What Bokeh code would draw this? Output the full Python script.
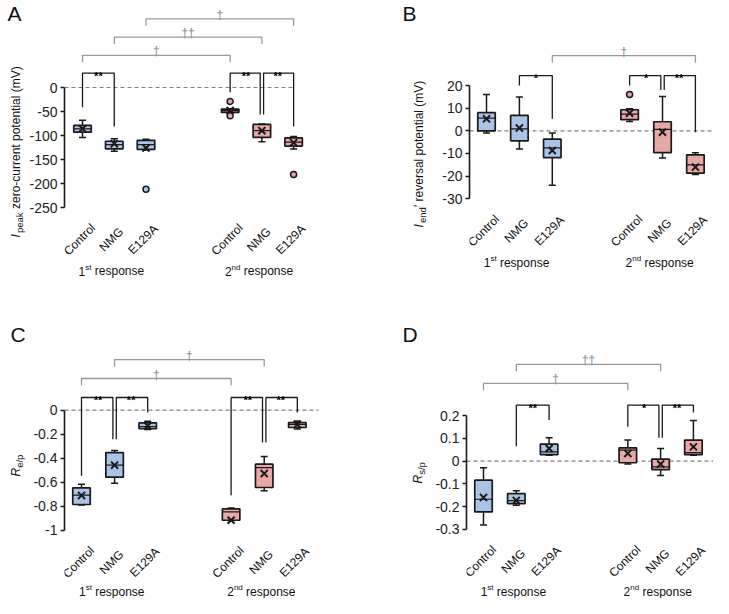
from math import pi
from bokeh.plotting import figure
from bokeh.models import Range1d, FixedTicker
from bokeh.layouts import row, column
from bokeh.embed import file_html
from bokeh.resources import INLINE
from bokeh.core.properties import value

# ---------------- data ----------------
categories = ["Control", "NMG", "E129A", "Control", "NMG", "E129A"]
responses = [("1", "st"), ("2", "nd")]

# Panel A: Ipeak zero-current potential (mV)
A_lo   = [-104, -133, -130, -52, -113, -128]
A_q1   = [-93, -128, -129, -52, -104, -122]
A_med  = [-86, -119, -119, -48, -90, -114]
A_q3   = [-79, -112, -110, -45, -77, -105]
A_hi   = [-68, -107, -108, -45, -76, -102]
A_mean = [-86, -117, -126, -48, -90, -115]
A_out_idx = [2, 3, 3, 5]
A_out_val = [-212, -29, -59, -181]
A_ticks = [-250, -200, -150, -100, -50, 0]
A_tick_labels = ["-250", "-200", "-150", "-100", "-50", "0"]
A_sig_pairs = [(0, 1), (3, 4), (4, 5)]
A_sig_text = ["**", "**", "**"]
A_sig_level = [30, 30, 30]
A_sig_legs = [(-41, -81), (-10, -56), (-56, -81)]
A_dag_pairs = [(0, 3), (1, 4), (2, 5)]
A_dag_text = ["\u2020", "\u2020\u2020", "\u2020"]
A_dag_level = [67, 105, 143]

# Panel B: Iend' reversal potential (mV)
B_lo   = [-1, -8, -24, 4.1, -12, -19.3]
B_q1   = [0, -4.4, -11.8, 4.9, -9.6, -18.7]
B_med  = [5.6, 0.9, -7.5, 7.4, 0.6, -15]
B_q3   = [8, 6.8, -3.7, 9.3, 4, -10.6]
B_hi   = [16, 14.9, -1, 9.7, 15.1, -9.7]
B_mean = [5.3, 1.2, -8.7, 7.8, -0.6, -16]
B_out_idx = [3]
B_out_val = [16]
B_ticks = [-30, -20, -10, 0, 10, 20]
B_tick_labels = ["-30", "-20", "-10", "0", "10", "20"]
B_sig_pairs = [(1, 2), (3, 4), (4, 5)]
B_sig_text = ["*", "*", "**"]
B_sig_level = [24.4, 24.4, 24.4]
B_sig_legs = [(20, 5.3), (20, 18), (18, -0.6)]
B_dag_pairs = [(2, 5)]
B_dag_text = ["\u2020"]
B_dag_level = [33.2]

# Panel C: Re/p
C_lo   = [-0.79, -0.608, -0.161, -0.92, -0.672, -0.156]
C_q1   = [-0.786, -0.558, -0.153, -0.917, -0.644, -0.144]
C_med  = [-0.708, -0.458, -0.136, -0.847, -0.478, -0.119]
C_q3   = [-0.647, -0.353, -0.106, -0.822, -0.45, -0.103]
C_hi   = [-0.617, -0.336, -0.092, -0.814, -0.386, -0.089]
C_mean = [-0.71, -0.458, -0.131, -0.917, -0.528, -0.12]
C_out_idx = []
C_out_val = []
C_ticks = [-1, -0.8, -0.6, -0.4, -0.2, 0]
C_tick_labels = ["-1", "-0.8", "-0.6", "-0.4", "-0.2", "0"]
C_sig_pairs = [(0, 1), (1, 2), (3, 4), (4, 5)]
C_sig_text = ["**", "**", "**", "**"]
C_sig_level = [0.106, 0.106, 0.106, 0.106]
C_sig_legs = [(-0.547, -0.242), (-0.242, -0.019), (-0.708, -0.269), (-0.269, -0.019)]
C_dag_pairs = [(0, 3), (1, 4)]
C_dag_text = ["\u2020", "\u2020"]
C_dag_level = [0.264, 0.422]

# Panel D: Rs/p
D_lo   = [-0.282, -0.194, 0.026, -0.013, -0.063, 0.026]
D_q1   = [-0.224, -0.187, 0.029, -0.007, -0.037, 0.029]
D_med  = [-0.168, -0.174, 0.041, 0.049, -0.025, 0.038]
D_q3   = [-0.084, -0.143, 0.075, 0.059, 0.009, 0.093]
D_hi   = [-0.029, -0.131, 0.103, 0.093, 0.056, 0.179]
D_mean = [-0.16, -0.173, 0.056, 0.034, -0.013, 0.063]
D_out_idx = []
D_out_val = []
D_ticks = [-0.3, -0.2, -0.1, 0, 0.1, 0.2]
D_tick_labels = ["-0.3", "-0.2", "-0.1", "0", "0.1", "0.2"]
D_sig_pairs = [(1, 2), (3, 4), (4, 5)]
D_sig_text = ["**", "*", "**"]
D_sig_level = [0.247, 0.247, 0.247]
D_sig_legs = [(0.066, 0.181), (0.152, 0.103), (0.103, 0.215)]
D_dag_pairs = [(0, 3), (1, 4)]
D_dag_text = ["\u2020", "\u2020\u2020"]
D_dag_level = [0.343, 0.427]

# ---------------- style ----------------
FONT = "Liberation Sans"
BLUE = "#a9c4e6"
PINK = "#e8a8a6"
EDGE = "#1a1a1a"
GRAY = "#999999"
COLORS = [BLUE] * 3 + [PINK] * 3


def label_fig(w, H, letter, letter_xy, pieces, ylabel_xy):
    q = figure(width=w, height=H, x_range=Range1d(0, w), y_range=Range1d(-H, 0),
               x_axis_location=None, y_axis_location=None, output_backend="svg",
               toolbar_location=None, min_border=0)
    q.grid.visible = False
    q.outline_line_color = None
    q.text(x=[letter_xy[0]], y=[-letter_xy[1]], text=[letter], text_align="left",
           text_baseline="top", text_font=value(FONT), text_font_size="21px",
           text_color="#111111")
    lx, ly = ylabel_xy
    cur = ly
    for txt, size, italic, shift, width in pieces:
        q.text(x=[lx + shift], y=[-cur], text=[txt], angle=pi / 2, text_align="left",
               text_baseline="middle", text_font=value(FONT), text_font_size=size,
               text_font_style="italic" if italic else "normal", text_color="#111111")
        cur -= width
    return q


def make_panel(W, H, lab_w, frame_left, cal, xcal, st, out_idx, out_val, ticks,
               tick_labels, sig, dag, dash_end_px, resp_dy):
    (yv1, py1), (yv2, py2) = cal
    ppu = (py2 - py1) / (yv1 - yv2)

    def dy(py):
        return yv1 - (py - py1) / ppu

    def py_of(v):
        return py1 + (yv1 - v) * ppu

    x0, s, g = xcal

    def dx(px):
        return (px - x0) / s

    pos = [0, 1, 2, g, g + 1, g + 2]
    lo, q1, med, q3, hi, mean = st

    p = figure(width=W - lab_w, height=H, x_range=Range1d(dx(frame_left), dx(W)),
               y_range=Range1d(dy(H), dy(0)), x_axis_location=None,
               y_axis_location="left", output_backend="svg", toolbar_location=None,
               min_border_left=frame_left - lab_w, min_border_right=0,
               min_border_top=0, min_border_bottom=0)
    p.grid.visible = False
    p.outline_line_color = None

    ax = p.yaxis[0]
    ax.ticker = FixedTicker(ticks=ticks, minor_ticks=[])
    ax.major_label_overrides = {t: l for t, l in zip(ticks, tick_labels)}
    ax.bounds = (min(ticks), max(ticks))
    ax.axis_line_width = 1.6
    ax.axis_line_color = EDGE
    ax.major_tick_in = 0
    ax.major_tick_out = 4
    ax.major_tick_line_width = 1.6
    ax.major_tick_line_color = EDGE
    ax.minor_tick_line_color = None
    ax.major_label_text_font = FONT
    ax.major_label_text_font_size = "14px"
    ax.major_label_text_color = "#222222"
    ax.major_label_standoff = 3

    # zero dashed line
    p.segment(x0=[dx(frame_left)], y0=[0], x1=[dx(dash_end_px)], y1=[0],
              line_color="#808080", line_width=1.2, line_dash="4 3")

    bw = 17.5 / s
    cw = 3.5 / s
    p.segment(x0=pos, y0=lo, x1=pos, y1=hi, line_color=EDGE, line_width=1.5)
    p.segment(x0=[x - cw for x in pos], y0=lo, x1=[x + cw for x in pos], y1=lo,
              line_color=EDGE, line_width=1.5)
    p.segment(x0=[x - cw for x in pos], y0=hi, x1=[x + cw for x in pos], y1=hi,
              line_color=EDGE, line_width=1.5)
    p.vbar(x=pos, bottom=q1, top=q3, width=bw, fill_color=COLORS,
           line_color=EDGE, line_width=1.7)
    p.segment(x0=[x - bw / 2 for x in pos], y0=med, x1=[x + bw / 2 for x in pos],
              y1=med, line_color=EDGE, line_width=1.2)
    p.scatter(x=pos, y=mean, marker="x", size=10, line_color=EDGE, line_width=2)
    if out_idx:
        p.scatter(x=[pos[i] for i in out_idx], y=out_val, marker="circle", size=6,
                  fill_color=[COLORS[i] for i in out_idx], line_color=EDGE,
                  line_width=1.5)

    # significance brackets (black)
    pairs, texts, levels, legs = sig
    d = 1.7 / s
    lefts = [a for a, b in pairs]
    rights = [b for a, b in pairs]
    xs, ys, tx, ty = [], [], [], []
    for (a, b), t, lev, (la, lb) in zip(pairs, texts, levels, legs):
        xa = pos[a] + (d if a in rights else 0)
        xb = pos[b] - (d if b in lefts else 0)
        xs.append([xa, xa, xb, xb])
        ys.append([la, lev, lev, lb])
        tx.append((pos[a] + pos[b]) / 2)
        ty.append(dy(py_of(lev) + 2.5))
    p.multi_line(xs=xs, ys=ys, line_color=EDGE, line_width=1.3)
    p.text(x=tx, y=ty, text=texts, text_align="center", text_baseline="alphabetic",
           text_font=value(FONT), text_font_size="11px", text_font_style="bold",
           text_color="#000000")

    # dagger brackets (gray)
    pairs, texts, levels = dag
    xs, ys, tx, ty = [], [], [], []
    for (a, b), t, lev in zip(pairs, texts, levels):
        leg = dy(py_of(lev) + 7)
        xs.append([pos[a], pos[a], pos[b], pos[b]])
        ys.append([leg, lev, lev, leg])
        tx.append((pos[a] + pos[b]) / 2)
        ty.append(dy(py_of(lev) - 4))
    p.multi_line(xs=xs, ys=ys, line_color=GRAY, line_width=1.3)
    p.text(x=tx, y=ty, text=texts, text_align="center", text_baseline="alphabetic",
           text_font=value(FONT), text_font_size="12px", text_color="#8a8a8a")

    # category labels
    bottom_px = py_of(min(ticks))
    p.text(x=[x - 3 / s for x in pos], y=[dy(bottom_px + 32)] * 6, text=categories,
           angle=pi / 4, text_align="center", text_baseline="middle",
           text_font=value(FONT), text_font_size="12px", text_color="#111111")

    # response labels
    for k, (num, sup) in enumerate(responses):
        cx = x0 + pos[3 * k + 1] * s
        w_num = 6.7
        w_sup = 6.2 if sup == "st" else 8.9
        w_sp = 3.3
        w_rest = 55.1
        start = cx - (w_num + w_sup + w_sp + w_rest) / 2
        ry = bottom_px + resp_dy
        p.text(x=[dx(start), dx(start + w_num), dx(start + w_num + w_sup + w_sp)],
               y=[dy(ry), dy(ry - 4), dy(ry)], text=[num, sup, "response"],
               text_align="left", text_baseline="middle", text_font=value(FONT),
               text_font_size=["12px", "8px", "12px"], text_color="#111111")
    return p


LW, RW = 358, 355      # column widths
TH, BH = 288, 310      # row heights

# panel A
labA = label_fig(26, TH, "A", (7, 1),
                 [("I", "12px", True, 0, 4.5), ("peak", "9.5px", False, 3.5, 24),
                  ("zero-current potential (mV)", "12px", False, 0, 0)], (15, 237))
pA = make_panel(LW, TH, 26, 64, ((0, 87), (-250, 207)), (82, 31.75, 4.65),
                (A_lo, A_q1, A_med, A_q3, A_hi, A_mean), A_out_idx, A_out_val,
                A_ticks, A_tick_labels,
                (A_sig_pairs, A_sig_text, A_sig_level, A_sig_legs),
                (A_dag_pairs, A_dag_text, A_dag_level), 293, 63.5)

# panel B
labB = label_fig(70, TH, "B", (44, 1),
                 [("I", "12px", True, 0, 4.5), ("end", "9.5px", False, 3.5, 16),
                  ("\u2032 reversal potential (mV)", "12px", False, 0, 0)], (60, 227))
pB = make_panel(RW, TH, 70, 111, ((20, 85), (-30, 198.3)), (128, 32.9, 4.35),
                (B_lo, B_q1, B_med, B_q3, B_hi, B_mean), B_out_idx, B_out_val,
                B_ticks, B_tick_labels,
                (B_sig_pairs, B_sig_text, B_sig_level, B_sig_legs),
                (B_dag_pairs, B_dag_text, B_dag_level), RW, 64)

# panel C
labC = label_fig(26, BH, "C", (10, 34),
                 [("R", "12px", True, 0, 8.7), ("e/p", "9.5px", False, 3.5, 0)],
                 (15, 188))
pC = make_panel(LW, BH, 26, 64, ((0, 121.7), (-1, 241.7)), (81, 33.1, 4.52),
                (C_lo, C_q1, C_med, C_q3, C_hi, C_mean), C_out_idx, C_out_val,
                C_ticks, C_tick_labels,
                (C_sig_pairs, C_sig_text, C_sig_level, C_sig_legs),
                (C_dag_pairs, C_dag_text, C_dag_level), 318, 61.5)

# panel D
labD = label_fig(70, BH, "D", (44, 34),
                 [("R", "12px", True, 0, 8.7), ("s/p", "9.5px", False, 3.5, 0)],
                 (59, 195))
pD = make_panel(RW, BH, 70, 108, ((0.2, 127.3), (-0.3, 240.7)), (125, 32.8, 4.40),
                (D_lo, D_q1, D_med, D_q3, D_hi, D_mean), D_out_idx, D_out_val,
                D_ticks, D_tick_labels,
                (D_sig_pairs, D_sig_text, D_sig_level, D_sig_legs),
                (D_dag_pairs, D_dag_text, D_dag_level), RW, 62.5)

layout = column(row(labA, pA, labB, pB), row(labC, pC, labD, pD))
open("out.html", "w").write(file_html(layout, INLINE))
